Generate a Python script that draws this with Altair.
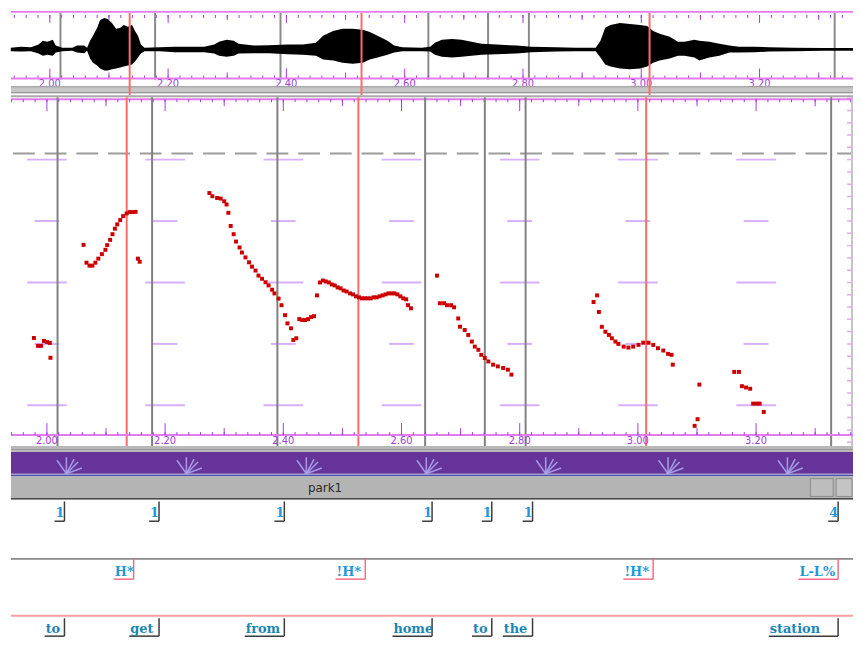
import altair as alt
import pandas as pd

# ---------------- values ----------------
tick_times = [2.00, 2.20, 2.40, 2.60, 2.80, 3.00, 3.20]
tick_labels = ["2.00", "2.20", "2.40", "2.60", "2.80", "3.00", "3.20"]
mid_ticks = [2.10, 2.30, 2.50, 2.70, 2.90, 3.10, 3.30]
minor_ticks = [round(1.94 + 0.02 * i, 2) for i in range(72)]

boundary_times = [2.018, 2.178, 2.390, 2.640, 2.741, 2.810, 3.327]
words = ["to", "get", "from", "home", "to", "the", "station"]
break_indices = ["1", "1", "1", "1", "1", "1", "4"]
accent_times = [2.135, 2.527, 3.014]
tone_times = [2.135, 2.527, 3.014, 3.327]
tones = ["H*", "!H*", "!H*", "L-L%"]

# waveform envelope (seconds, normalised amplitude)
wave_t = [1.934, 1.951, 1.968, 1.981, 1.988, 1.996, 2.005, 2.010, 2.021, 2.038,
          2.046, 2.058, 2.063, 2.068, 2.073, 2.080, 2.085, 2.092, 2.098, 2.105,
          2.112, 2.119, 2.125, 2.132, 2.139, 2.144, 2.149, 2.154, 2.160, 2.186,
          2.211, 2.236, 2.261, 2.278, 2.286, 2.299, 2.311, 2.319, 2.345, 2.370,
          2.403, 2.428, 2.450, 2.462, 2.479, 2.495, 2.512, 2.529, 2.541, 2.554,
          2.571, 2.582, 2.596, 2.629, 2.643, 2.651, 2.663, 2.680, 2.696, 2.713,
          2.730, 2.755, 2.789, 2.814, 2.856, 2.889, 2.923, 2.931, 2.939, 2.948,
          2.964, 2.981, 2.998, 3.010, 3.020, 3.031, 3.048, 3.062, 3.073, 3.090,
          3.098, 3.115, 3.132, 3.149, 3.165, 3.191, 3.216, 3.258, 3.308, 3.358]
wave_top = [.05, .08, .07, .15, .27, .24, .30, .12, .05, .05,
            .12, .12, .05, .27, .43, .68, .93, .99, .96, .83,
            .65, .68, .77, .71, .77, .58, .43, .15, .05, .07,
            .08, .08, .08, .15, .24, .30, .27, .18, .12, .13,
            .15, .15, .21, .43, .58, .65, .65, .62, .55, .43,
            .27, .12, .07, .05, .08, .21, .30, .33, .30, .24,
            .18, .15, .12, .08, .07, .05, .05, .27, .68, .77,
            .83, .80, .77, .74, .58, .49, .40, .24, .24, .30,
            .27, .24, .18, .12, .08, .08, .07, .05, .04, .04]
wave_bottom = [-.06, -.07, -.06, -.13, -.20, -.17, -.20, -.10, -.06, -.04,
               -.10, -.12, -.04, -.29, -.42, -.51, -.60, -.67, -.67, -.63,
               -.60, -.57, -.54, -.51, -.48, -.38, -.26, -.13, -.06, -.06,
               -.09, -.09, -.09, -.13, -.20, -.23, -.20, -.13, -.12, -.12,
               -.15, -.17, -.20, -.32, -.35, -.42, -.45, -.42, -.32, -.26,
               -.17, -.10, -.06, -.06, -.07, -.17, -.23, -.26, -.23, -.20,
               -.17, -.15, -.13, -.09, -.07, -.06, -.06, -.26, -.48, -.54,
               -.60, -.63, -.60, -.54, -.42, -.35, -.29, -.20, -.20, -.26,
               -.35, -.26, -.20, -.10, -.10, -.09, -.07, -.06, -.04, -.04]

# pitch track (seconds, Hz)
pitch_t = [1.978, 1.985, 1.990, 1.995, 2.000, 2.005, 2.006,
           2.062, 2.067, 2.072, 2.077, 2.082, 2.087, 2.093, 2.099, 2.102, 2.107,
           2.111, 2.115, 2.119, 2.124, 2.129, 2.135, 2.140, 2.145, 2.150, 2.154, 2.157,
           2.275, 2.280, 2.288, 2.294, 2.300, 2.304, 2.307, 2.311, 2.316, 2.320,
           2.326, 2.330, 2.336, 2.342, 2.347, 2.353, 2.358, 2.364, 2.370, 2.375,
           2.381, 2.385, 2.392, 2.397, 2.403, 2.407, 2.413, 2.417, 2.422,
           2.427, 2.432, 2.437, 2.442, 2.447, 2.452, 2.457,
           2.462, 2.467, 2.472, 2.477, 2.482, 2.487, 2.492, 2.497, 2.502, 2.507,
           2.513, 2.518, 2.523, 2.528, 2.533, 2.538, 2.543, 2.548, 2.553, 2.558,
           2.563, 2.568, 2.573, 2.578, 2.583, 2.588, 2.593, 2.598, 2.603, 2.608,
           2.611, 2.616,
           2.660, 2.665, 2.672, 2.677, 2.684, 2.689, 2.696, 2.699, 2.707, 2.713,
           2.719, 2.724, 2.730, 2.735, 2.741, 2.747, 2.755, 2.763, 2.772, 2.780, 2.786,
           2.925, 2.931, 2.934, 2.939, 2.945, 2.951, 2.956, 2.962, 2.967, 2.976,
           2.984, 2.992, 3.001, 3.009, 3.018, 3.026, 3.034, 3.043, 3.051, 3.057, 3.059,
           3.096, 3.101, 3.104,
           3.163, 3.171, 3.176, 3.183, 3.190, 3.195, 3.201, 3.206, 3.213]
pitch_hz = [154.8, 148.4, 148.4, 152.4, 151.6, 150.8, 138.7,
            230.6, 216.1, 213.7, 213.7, 216.1, 219.4, 223.1, 226.6, 230.4, 234.7,
            239.3, 243.8, 247.3, 250.8, 254.0, 256.2, 257.3, 257.3, 257.5, 219.4, 216.9,
            272.8, 270.2, 268.8, 268.3, 266.1, 263.5, 256.7, 246.0, 239.3, 233.3,
            228.5, 224.4, 220.4, 216.4, 212.9, 209.7, 205.6, 203.0, 200.2, 197.6,
            194.1, 191.1, 186.9, 181.5, 173.4, 166.7, 162.7, 153.2, 154.6,
            170.2, 169.4, 169.4, 170.2, 171.8, 172.6, 189.5,
            200.0, 201.6, 200.8, 200.0, 198.4, 197.6, 196.0, 195.2, 193.5, 192.7,
            191.1, 190.3, 188.7, 187.9, 187.1, 187.1, 187.1, 187.1, 187.9, 187.9,
            188.7, 189.5, 190.3, 191.1, 191.1, 191.1, 190.3, 188.7, 187.1, 186.3,
            181.5, 179.0,
            205.6, 183.1, 183.1, 181.5, 181.5, 179.8, 170.7, 164.0, 161.3, 157.3,
            151.9, 147.8, 145.2, 141.1, 138.5, 135.7, 133.1, 131.7, 130.4, 129.0, 125.0,
            184.1, 189.5, 176.0, 163.9, 159.9, 157.3, 154.6, 151.9, 150.0, 147.8,
            147.0, 147.8, 149.2, 151.0, 151.0, 149.2, 146.5, 144.6, 141.9, 141.1, 133.1,
            83.3, 88.7, 116.9,
            127.2, 127.2, 115.6, 114.5, 113.5, 101.4, 101.4, 101.4, 94.6]

grid_long_hz = [100, 200, 300]
grid_short_hz = [150, 250]
hz_minor = list(range(70, 351, 10))
max_f0_hz = [305]
sun_times = [2.033, 2.236, 2.439, 2.642, 2.844, 3.051, 3.253]
ray_angles = [55, 90, 118, 135, 160]
file_name = "park1"

# ---------------- layout helpers ----------------
W = 850
XW = [1.9343, 3.3580]   # waveform window
XP = [1.9392, 3.3640]   # pitch window
XL = [1.9275, 3.3522]   # label windows
YW = [-1.447, 1.209]
YP = [62.1, 352.4]

MAG = "#e47cf0"
PURP = "#a040e0"
GRID = "#c78cff"

one = pd.DataFrame({"k": [0]})


def qx(dom, field="t"):
    return alt.X(f"{field}:Q", scale=alt.Scale(domain=dom, nice=False, zero=False), axis=None)


def qy(dom, field):
    return alt.Y(f"{field}:Q", scale=alt.Scale(domain=dom, nice=False, zero=False), axis=None)


def band(y0, y1, color, x0=0, x1=W, stroke=None):
    kw = {"color": color}
    if stroke:
        kw["stroke"] = stroke
        kw["strokeWidth"] = 1
    return alt.Chart(one).mark_rect(**kw).encode(
        x=alt.value(x0), x2=alt.value(x1), y=alt.value(y0), y2=alt.value(y1))


def hline(y, color, sw, x0=0, x1=W):
    # a thin filled rectangle (no stroke, so it does not enlarge the chart bounds)
    return band(y - sw / 2, y + sw / 2, color, x0, x1)


def vrules(times, dom, y0, y1, color, sw=1.0, opacity=1.0):
    return alt.Chart(pd.DataFrame({"t": times})).mark_rule(
        color=color, strokeWidth=sw, opacity=opacity, clip=True).encode(
        x=qx(dom), y=alt.value(y0), y2=alt.value(y1))


def tick_text(dom, y):
    return alt.Chart(pd.DataFrame({"t": tick_times, "lab": tick_labels})).mark_text(
        color=PURP, fontSize=10, font="DejaVu Sans", align="center", baseline="middle").encode(
        x=qx(dom), y=alt.value(y), text="lab:N")


# ---------------- panel 1: waveform ----------------
H1 = 85
wave_df = pd.DataFrame({"t": wave_t, "top": wave_top, "bot": wave_bottom})
p1 = alt.layer(
    band(0, 1.8, MAG),
    vrules(minor_ticks, XW, 4, 7, PURP),
    vrules(mid_ticks, XW, 4, 9, PURP),
    vrules(tick_times, XW, 4, 12, PURP),
    vrules(boundary_times, XW, 2, 69, "#8a8a8a", 2),
    alt.Chart(wave_df).mark_area(color="black", interpolate="linear").encode(
        x=qx(XW), y=qy(YW, "top"), y2="bot:Q"),
    vrules(minor_ticks, XW, 65, 68, PURP),
    vrules(mid_ticks, XW, 62, 68, PURP),
    vrules(tick_times, XW, 58, 68, PURP),
    hline(68, MAG, 2),
    tick_text(XW, 73.5),
    band(76, 83, "#c6c6c6"),
    hline(76.5, "#9a9a9a", 1),
    hline(82.5, "#8a8a8a", 1),
    vrules(accent_times, XW, 2, H1, "#ff6b6b", 2),
).properties(width=W, height=H1)

# ---------------- panel 2: pitch ----------------
H2 = 360
pitch_df = pd.DataFrame({"t": pitch_t, "hz": pitch_hz})
glong = pd.DataFrame([(t, h) for t in tick_times for h in grid_long_hz], columns=["t", "hz"])
gshort = pd.DataFrame([(t, h) for t in tick_times for h in grid_short_hz], columns=["t", "hz"])
p2 = alt.layer(
    hline(1, "#a8a8a8", 2),
    hline(4, MAG, 2),
    vrules(minor_ticks, XP, 4, 7, PURP),
    vrules(mid_ticks, XP, 4, 11, PURP),
    vrules(tick_times, XP, 4, 16, PURP),
    alt.Chart(pd.DataFrame({"hz": max_f0_hz})).mark_rule(
        color="#9c9c9c", strokeWidth=2, strokeDash=[22, 10]).encode(
        x=alt.value(2), x2=alt.value(W), y=qy(YP, "hz")),
    alt.Chart(glong).mark_tick(orient="horizontal", size=40, thickness=2, color=GRID).encode(
        x=qx(XP), y=qy(YP, "hz")),
    alt.Chart(gshort).mark_tick(orient="horizontal", size=25, thickness=2, color=GRID).encode(
        x=qx(XP), y=qy(YP, "hz")),
    alt.Chart(pd.DataFrame({"hz": hz_minor})).mark_tick(
        orient="horizontal", size=4, thickness=1.5, color=MAG, clip=True).encode(
        x=alt.value(846), y=qy(YP, "hz")),
    vrules(boundary_times, XP, 2, 354, "#808080", 2),
    vrules(accent_times, XP, 2, 354, "#ff6b6b", 2),
    band(2, 354, "#c4c4c4", 848, 850),
    alt.Chart(pitch_df).mark_square(size=16, color="#cc0000", opacity=1).encode(
        x=qx(XP), y=qy(YP, "hz")),
    hline(343, MAG, 2),
    vrules(minor_ticks, XP, 340, 343, PURP),
    vrules(mid_ticks, XP, 336, 343, PURP),
    vrules(tick_times, XP, 331, 343, PURP),
    tick_text(XP, 349),
    band(354, 360, "#b8b8b8"),
    hline(357.5, "#9a9a9a", 1),
).properties(width=W, height=H2)

# ---------------- panel 3: purple scroll strip ----------------
H3 = 22
rays = pd.DataFrame([(t, a) for t in sun_times for a in ray_angles], columns=["t", "ang"])
p3 = alt.layer(
    band(0, H3, "#663399"),
    alt.Chart(rays).mark_point(shape="stroke", size=1100, strokeWidth=1.6,
                               color="#aaa6ec", opacity=0.9, clip=True).encode(
        x=qx(XP), y=alt.value(H3), angle=alt.Angle("ang:Q", scale=None)),
).properties(width=W, height=H3)

# ---------------- panel 4: title bar ----------------
H4 = 25
p4 = alt.layer(
    band(0, H4, "#b4b4b4"),
    hline(0.7, "#4a4fb0", 1.5),
    hline(24.3, "#4a4a4a", 1.5),
    band(4, 22, "#bdbdbd", 807, 830, "#8c8c8c"),
    band(4, 22, "#c4c4c4", 833, 849, "#8c8c8c"),
    alt.Chart(pd.DataFrame({"lab": [file_name]})).mark_text(
        font="DejaVu Sans", fontSize=12, color="#2a2a2a", baseline="middle").encode(
        x=alt.value(317), y=alt.value(13), text="lab:N"),
).properties(width=W, height=H4)

# ---------------- label tiers ----------------
px_per_s = W / (XL[1] - XL[0])


def tier(times, labels, H, y_text, y_under, y_top, line_col, text_col, extra):
    df = pd.DataFrame({"t": times, "lab": labels,
                       "start": [t - 10 * len(l) / px_per_s for t, l in zip(times, labels)]})
    layers = [
        alt.Chart(df).mark_rule(color=line_col, strokeWidth=1.5).encode(
            x=qx(XL, "start"), x2="t:Q", y=alt.value(y_under)),
        alt.Chart(df).mark_rule(color=line_col, strokeWidth=1.5).encode(
            x=qx(XL), y=alt.value(y_top), y2=alt.value(y_under)),
        alt.Chart(df).mark_text(font="DejaVu Serif", fontWeight="bold", fontSize=13,
                                color=text_col, align="left", baseline="middle", dx=1).encode(
            x=qx(XL, "start"), y=alt.value(y_text), text="lab:N"),
    ]
    return alt.layer(*(extra + layers)).properties(width=W, height=H)


p5 = tier(boundary_times, break_indices, 58, 12.5, 21, 1, "#3c3c3c", "#1c9ad8", [])
p6 = tier(tone_times, tones, 59, 13, 20.5, 0, "#f26d85", "#1c9ad8",
          [hline(0, "#8a8a8a", 2), hline(57.5, "#f7a0a0", 2)])
p7 = tier(boundary_times, words, 38, 10.5, 18, 0, "#3a3a3a", "#1a86b6", [])

chart = alt.vconcat(p1, p2, p3, p4, p5, p6, p7, spacing=0).resolve_scale(
    x="independent", y="independent").properties(
    padding={"left": 2, "top": 0, "right": 0, "bottom": 0}, background="white"
).configure_view(stroke=None)

chart.save("out.html", embed_options={"renderer": "svg", "actions": False})
